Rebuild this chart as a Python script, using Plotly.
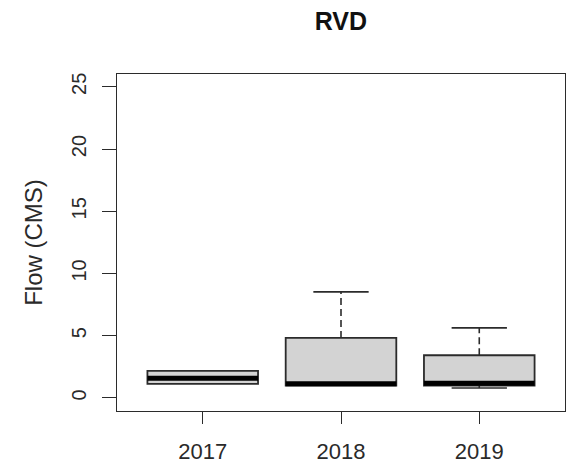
import plotly.graph_objects as go

# ---- data ----
years = ["2017", "2018", "2019"]
positions = [1, 2, 3]
q1 = [1.13, 1.00, 1.00]
median = [1.58, 1.14, 1.17]
q3 = [2.17, 4.82, 3.43]
whisker_low = [1.13, 1.00, 0.80]
whisker_high = [2.17, 8.52, 5.63]
y_ticks = [0, 5, 10, 15, 20, 25]

BOX_W = 0.8
CAP_W = 0.4
LINE_C = "#2b2b2b"
FONT = "Liberation Sans, Arial, sans-serif"

fig = go.Figure()

for i, p in enumerate(positions):
    fig.add_trace(go.Box(
        x=[p], q1=[q1[i]], median=[median[i]], q3=[q3[i]],
        lowerfence=[q1[i]], upperfence=[q3[i]],
        width=BOX_W, fillcolor="#D3D3D3",
        line=dict(color=LINE_C, width=1.8),
        showlegend=False, hoverinfo="skip", boxpoints=False,
    ))
    # dashed whiskers
    if whisker_high[i] > q3[i]:
        fig.add_trace(go.Scatter(x=[p, p], y=[q3[i], whisker_high[i]], mode="lines",
                                 line=dict(color=LINE_C, width=1.6, dash="7px,4px"),
                                 showlegend=False, hoverinfo="skip"))
        fig.add_trace(go.Scatter(x=[p - CAP_W / 2, p + CAP_W / 2], y=[whisker_high[i]] * 2,
                                 mode="lines", line=dict(color=LINE_C, width=1.6),
                                 showlegend=False, hoverinfo="skip"))
    if whisker_low[i] < q1[i]:
        fig.add_trace(go.Scatter(x=[p, p], y=[whisker_low[i], q1[i]], mode="lines",
                                 line=dict(color=LINE_C, width=1.6, dash="7px,4px"),
                                 showlegend=False, hoverinfo="skip"))
        fig.add_trace(go.Scatter(x=[p - CAP_W / 2, p + CAP_W / 2], y=[whisker_low[i]] * 2,
                                 mode="lines", line=dict(color=LINE_C, width=1.6),
                                 showlegend=False, hoverinfo="skip"))
    # thick median line
    fig.add_trace(go.Scatter(x=[p - BOX_W / 2, p + BOX_W / 2], y=[median[i]] * 2,
                             mode="lines", line=dict(color="#000000", width=5),
                             showlegend=False, hoverinfo="skip"))

fig.update_layout(
    width=568, height=471,
    margin=dict(l=117, r=3, t=74, b=60),
    paper_bgcolor="white", plot_bgcolor="white",
    font=dict(family=FONT, color="#2a2a2a"),
    title=dict(text="<b>RVD</b>", x=0.6, xref="container", xanchor="center",
               y=1 - 21 / 471, yref="container", yanchor="middle",
               font=dict(size=25, color="#111111")),
    xaxis=dict(range=[0.38, 3.62], tickmode="array", tickvals=positions, ticktext=years,
               showgrid=False, zeroline=False, showline=True, mirror=True,
               linecolor=LINE_C, linewidth=1.3, ticks="outside", ticklen=12,
               tickcolor=LINE_C, tickwidth=1.3, tickfont=dict(size=22),
               ticklabelstandoff=8),
    yaxis=dict(range=[-1.05, 26.03], tickmode="array", tickvals=y_ticks,
               showgrid=False, zeroline=False, showline=True, mirror=True,
               linecolor=LINE_C, linewidth=1.3, ticks="outside", ticklen=14,
               tickcolor=LINE_C, tickwidth=1.3, tickfont=dict(size=20),
               tickangle=-90, ticklabelstandoff=8,
               title=dict(text="Flow (CMS)", font=dict(size=24), standoff=18)),
)

fig.write_html("out.html")
